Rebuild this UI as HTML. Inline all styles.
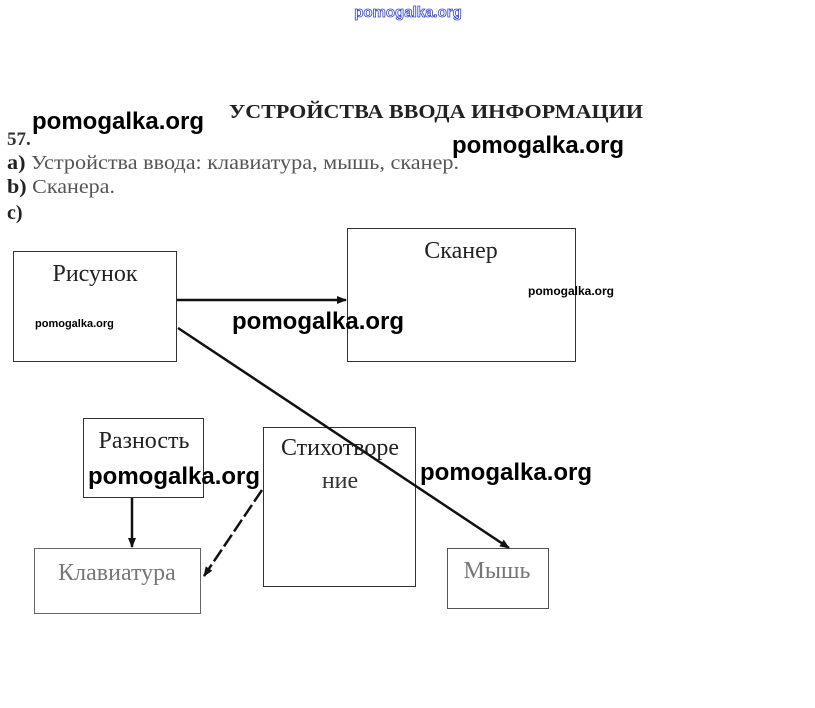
<!DOCTYPE html>
<html><head><meta charset="utf-8"><style>
body{margin:0;background:#fff;width:815px;height:708px;overflow:hidden}
svg{display:block}
.s{font-family:"Liberation Serif",serif}
.w{font-family:"Liberation Sans",sans-serif;font-weight:bold}
</style></head><body>
<svg width="815" height="708" viewBox="0 0 815 708">
<defs><marker id="a" markerWidth="10" markerHeight="8" refX="9" refY="4" orient="auto" markerUnits="userSpaceOnUse"><path d="M0,0 L10,4 L0,8 z" fill="#111"/></marker></defs>
<text x="408" y="17" text-anchor="middle" class="w" font-size="15" fill="#fff" stroke="#3344dd" stroke-width="0.8">pomogalka.org</text>
<text x="229" y="118" class="s" font-size="20" font-weight="bold" fill="#222" textLength="414" lengthAdjust="spacingAndGlyphs">УСТРОЙСТВА ВВОДА ИНФОРМАЦИИ</text>
<text x="7" y="145" class="s" font-size="19" font-weight="bold" fill="#333">57.</text>
<text x="7" y="169" class="s" font-size="20" fill="#555" textLength="452" lengthAdjust="spacingAndGlyphs"><tspan font-weight="bold" fill="#222">a)</tspan> Устройства ввода: клавиатура, мышь, сканер.</text>
<text x="7" y="193" class="s" font-size="20" fill="#555" textLength="108" lengthAdjust="spacingAndGlyphs"><tspan font-weight="bold" fill="#222">b)</tspan> Сканера.</text>
<text x="7" y="219" class="s" font-size="20" font-weight="bold" fill="#222">c)</text>
<g fill="none" stroke="#333" stroke-width="1">
<rect x="13.5" y="251.5" width="163" height="110"/>
<rect x="347.5" y="228.5" width="228" height="133"/>
<rect x="83.5" y="418.5" width="120" height="79"/>
<rect x="263.5" y="427.5" width="152" height="159"/>
<rect x="34.5" y="548.5" width="166" height="65" stroke="#666"/>
<rect x="447.5" y="548.5" width="101" height="60" stroke="#555"/>
</g>
<g stroke="#111" stroke-width="2.5" fill="none">
<line x1="177" y1="300" x2="346" y2="300" marker-end="url(#a)"/>
<line x1="178" y1="328" x2="509" y2="548" marker-end="url(#a)"/>
<line x1="132" y1="498" x2="132" y2="547" marker-end="url(#a)"/>
<line x1="262" y1="490" x2="204" y2="576" stroke-dasharray="14,4" marker-end="url(#a)"/>
</g>
<g class="s" font-size="24" text-anchor="middle">
<text x="95" y="281" fill="#222">Рисунок</text>
<text x="461" y="258" fill="#222">Сканер</text>
<text x="144" y="448" fill="#222">Разность</text>
<text x="340" y="455" fill="#222">Стихотворе</text>
<text x="340" y="488" fill="#333">ние</text>
<text x="117" y="580" fill="#777">Клавиатура</text>
<text x="497" y="578" fill="#777">Мышь</text>
</g>
<g class="w" fill="#000" font-size="24">
<text x="32" y="129">pomogalka.org</text>
<text x="452" y="153">pomogalka.org</text>
<text x="232" y="329">pomogalka.org</text>
<text x="88" y="484">pomogalka.org</text>
<text x="420" y="480">pomogalka.org</text>
<text x="528" y="295" font-size="12">pomogalka.org</text>
<text x="35" y="327" font-size="11">pomogalka.org</text>
</g>
</svg>
</body></html>
